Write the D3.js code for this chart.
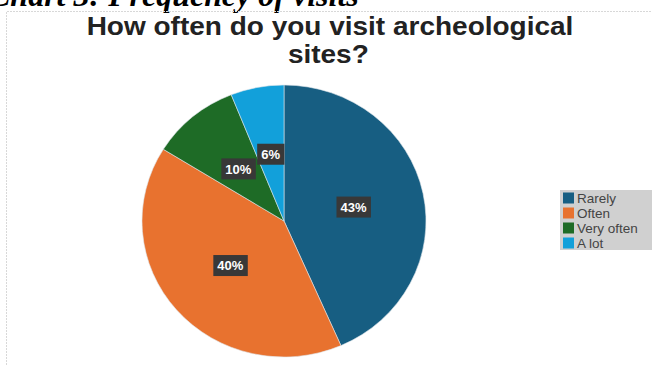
<!DOCTYPE html>
<html>
<head>
<meta charset="utf-8">
<script src="https://cdn.jsdelivr.net/npm/d3@7"></script>
<style>
  html, body { margin: 0; padding: 0; background: #fff; }
  svg { display: block; }
</style>
</head>
<body>
<svg id="chart" width="652" height="365"></svg>
<script>
// Survey answers: share of respondents per visiting frequency
const categories = ["Rarely", "Often", "Very often", "A lot"];
const shares = [43, 40, 10, 6];
const labels = ["43%", "40%", "10%", "6%"];
const colors = ["#175e82", "#e8722f", "#1e6b26", "#12a0da"];

const svg = d3.select("#chart");
const W = 652, H = 365;

// Caption above the chart frame (partly cut off at the top edge)
svg.append("text")
  .attr("x", -11).attr("y", 6)
  .attr("font-family", "'Liberation Serif', 'Times New Roman', serif")
  .attr("font-style", "italic").attr("font-weight", "bold")
  .attr("font-size", 32).attr("fill", "#000")
  .text("Chart 3: Frequency of visits");

// Chart frame (top and left edges)
svg.append("path")
  .attr("d", `M6.5,${H} V11.5 H${W}`)
  .attr("fill", "none").attr("stroke", "#d8d8d8")
  .attr("stroke-width", 1).attr("stroke-dasharray", "2,1");

// Title, slightly widened
const title = svg.append("g").attr("transform", "translate(330,0) scale(1.12,1)")
  .append("text")
  .attr("text-anchor", "middle")
  .attr("font-family", "'Liberation Sans', Arial, sans-serif")
  .attr("font-weight", "bold").attr("font-size", 25).attr("fill", "#222");
title.append("tspan").attr("x", 0).attr("y", 35).text("How often do you visit archeological");
title.append("tspan").attr("x", -1.5).attr("y", 63).text("sites?");

// Pie
const cx = 284, cy = 221, r = 142, yScale = 136 / 142;
const pie = d3.pie().sort(null).value(d => d)(shares);
const arc = d3.arc().innerRadius(0).outerRadius(r);

const g = svg.append("g").attr("transform", `translate(${cx},${cy})`);
g.append("g").attr("transform", `scale(1,${yScale})`)
  .selectAll("path").data(pie).join("path")
  .attr("d", arc)
  .attr("fill", (d, i) => colors[i])
  .attr("stroke", "#dfe6ea").attr("stroke-width", 0.6);

// Value labels on dark boxes at each slice centroid
const lab = g.selectAll("g.lab").data(pie).join("g")
  .attr("class", "lab")
  .attr("transform", d => {
    const [x, y] = arc.centroid(d);
    return `translate(${x},${y * yScale})`;
  });
lab.append("text")
  .attr("text-anchor", "middle").attr("dy", "0.36em")
  .attr("font-family", "'Liberation Sans', Arial, sans-serif")
  .attr("font-weight", "bold").attr("font-size", 13).attr("fill", "#fff")
  .text((d, i) => labels[i]);
lab.each(function () {
  const t = d3.select(this).select("text");
  const b = t.node().getBBox();
  d3.select(this).insert("rect", "text")
    .attr("x", b.x - 4).attr("y", -10.5)
    .attr("width", b.width + 8).attr("height", 21)
    .attr("fill", "#383838");
});

// Legend
const lg = svg.append("g").attr("transform", "translate(560,190)");
lg.append("rect").attr("width", 92).attr("height", 60).attr("fill", "#d0d0d0");
const item = lg.selectAll("g.item").data(categories).join("g")
  .attr("class", "item")
  .attr("transform", (d, i) => `translate(3,${8 + i * 15})`);
item.append("rect").attr("x", 0).attr("y", -5.5).attr("width", 11).attr("height", 11)
  .attr("fill", (d, i) => colors[i]);
item.append("text").attr("x", 14).attr("dy", "0.36em")
  .attr("font-family", "'Liberation Sans', Arial, sans-serif")
  .attr("font-size", 13.5).attr("fill", "#444")
  .text(d => d);
</script>
</body>
</html>
